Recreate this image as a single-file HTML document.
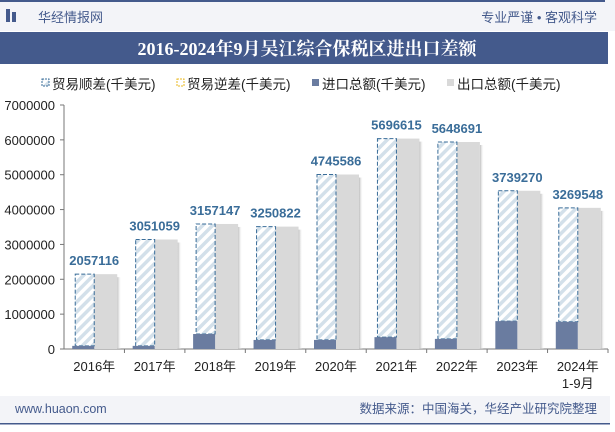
<!DOCTYPE html>
<html><head><meta charset="utf-8"><style>
body{margin:0;width:615px;height:427px;overflow:hidden;background:#fff;font-family:"Liberation Sans","Noto Sans CJK SC",sans-serif;}
</style></head><body>
<svg width="615" height="427" xmlns="http://www.w3.org/2000/svg">
<defs>
<pattern id="hatch" patternUnits="userSpaceOnUse" width="7" height="7" patternTransform="rotate(45)">
<rect width="7" height="7" fill="#fff"/><rect width="3.5" height="7" fill="#d3e0ea"/></pattern>
<linearGradient id="sh" x1="0" x2="1"><stop offset="0" stop-color="#bbb"/><stop offset="1" stop-color="#fff" stop-opacity="0"/></linearGradient>
</defs>
<rect x="0" y="0" width="615" height="31" fill="#f3f4f8"/>
<rect x="0" y="0" width="605" height="2" fill="#445a8c"/>
<rect x="6" y="9" width="4" height="13" fill="#445a8c"/><rect x="12" y="12" width="4" height="10" fill="#445a8c"/>
<text x="38" y="22" font-size="13" fill="#445a8c">华经情报网</text>
<text x="597" y="22" font-size="13" fill="#445a8c" text-anchor="end">专业严谨 • 客观科学</text>
<rect x="0" y="32" width="608" height="32" fill="#445a8c"/>
<text x="307" y="55" font-size="18" font-weight="bold" fill="#fff" text-anchor="middle" font-family="'Liberation Serif','Noto Serif CJK SC',serif">2016-2024年9月吴江综合保税区进出口差额</text>
<g font-size="13.5" fill="#222">
<rect x="42" y="79" width="7" height="7" fill="url(#hatch)" stroke="#3a6d99" stroke-dasharray="2,1"/>
<text x="52" y="89">贸易顺差(千美元)</text>
<rect x="177" y="79" width="7" height="7" fill="#fff" stroke="#e8b820" stroke-dasharray="2,1"/>
<text x="187" y="89">贸易逆差(千美元)</text>
<rect x="312" y="79" width="7" height="7" fill="#6a7ca0"/>
<text x="322" y="89">进口总额(千美元)</text>
<rect x="447" y="79" width="7" height="7" fill="#d9d9d9"/>
<text x="457" y="89">出口总额(千美元)</text>
</g>
<g id="plot"></g>
<rect x="0" y="396" width="610" height="27" fill="#f3f4f8"/>
<rect x="0" y="423" width="610" height="1.5" fill="#445a8c"/>
<text x="15" y="413" font-size="12.5" fill="#445a8c">www.huaon.com</text>
<text x="597" y="413" font-size="12.5" fill="#445a8c" text-anchor="end">数据来源：中国海关，华经产业研究院整理</text>
</svg>
<script>
const categories=["2016年","2017年","2018年","2019年","2020年","2021年","2022年","2023年","2024年|1-9月"];
const surplus=[2057116,3051059,3157147,3250822,4745586,5696615,5648691,3739270,3269548];
const imports=[90000,90000,430000,260000,260000,340000,290000,800000,780000];
const yTicks=[0,1000000,2000000,3000000,4000000,5000000,6000000,7000000];
const NS="http://www.w3.org/2000/svg";
const g=document.getElementById('plot');
const x0=64,x1=608,y0=349,y1=105,yMax=7000000;
const gw=(x1-x0)/categories.length;
const y=v=>y0-(v/yMax)*(y0-y1);
function el(t,a,p){const e=document.createElementNS(NS,t);for(const k in a)e.setAttribute(k,a[k]);(p||g).appendChild(e);return e;}
let ax=el('line',{x1:x0,y1:y1,x2:x0,y2:y0,stroke:'#777'});


yTicks.forEach(v=>{
 el('line',{x1:x0-4,x2:x0,y1:y(v),y2:y(v),stroke:'#777'});
 const t=el('text',{x:x0-9,y:y(v)+5,'font-size':13,fill:'#222','text-anchor':'end'});t.textContent=v;
 
 
});
let xa=el('line',{x1:x0,y1:y0,x2:x1,y2:y0,stroke:'#777'});


categories.forEach((c,i)=>{
 const cx=x0+gw*(i+0.5);
 el('line',{x1:x0+gw*(i+1),x2:x0+gw*(i+1),y1:y0,y2:y0+4,stroke:'#777'});
 const exp=surplus[i]+imports[i];
 el('rect',{x:cx+23,y:y(exp)+3,width:4,height:y0-y(exp)-3,fill:'url(#sh)'});
 const e=el('rect',{x:cx,y:y(exp),width:23,height:y0-y(exp),fill:'#d9d9d9'});
 
 
 const s=el('rect',{x:cx-19,y:y(exp),width:19,height:y(imports[i])-y(exp),fill:'url(#hatch)',stroke:'#3a6d99','stroke-dasharray':'4,2','stroke-width':1});
 
 
 const m=el('rect',{x:cx-22,y:y(imports[i]),width:22,height:y0-y(imports[i]),fill:'#6a7ca0'});
 
 
 const l=el('text',{x:cx,y:y(exp)-9,'font-size':13,'font-weight':'bold',fill:'#3a6d99','text-anchor':'middle'});l.textContent=surplus[i];
 
 
 c.split('|').forEach((p,k)=>{
  const t=el('text',{x:cx,y:371+k*17,'font-size':13,fill:'#222','text-anchor':'middle'});t.textContent=p;
  
  
 });
});
</script>
</body></html>
